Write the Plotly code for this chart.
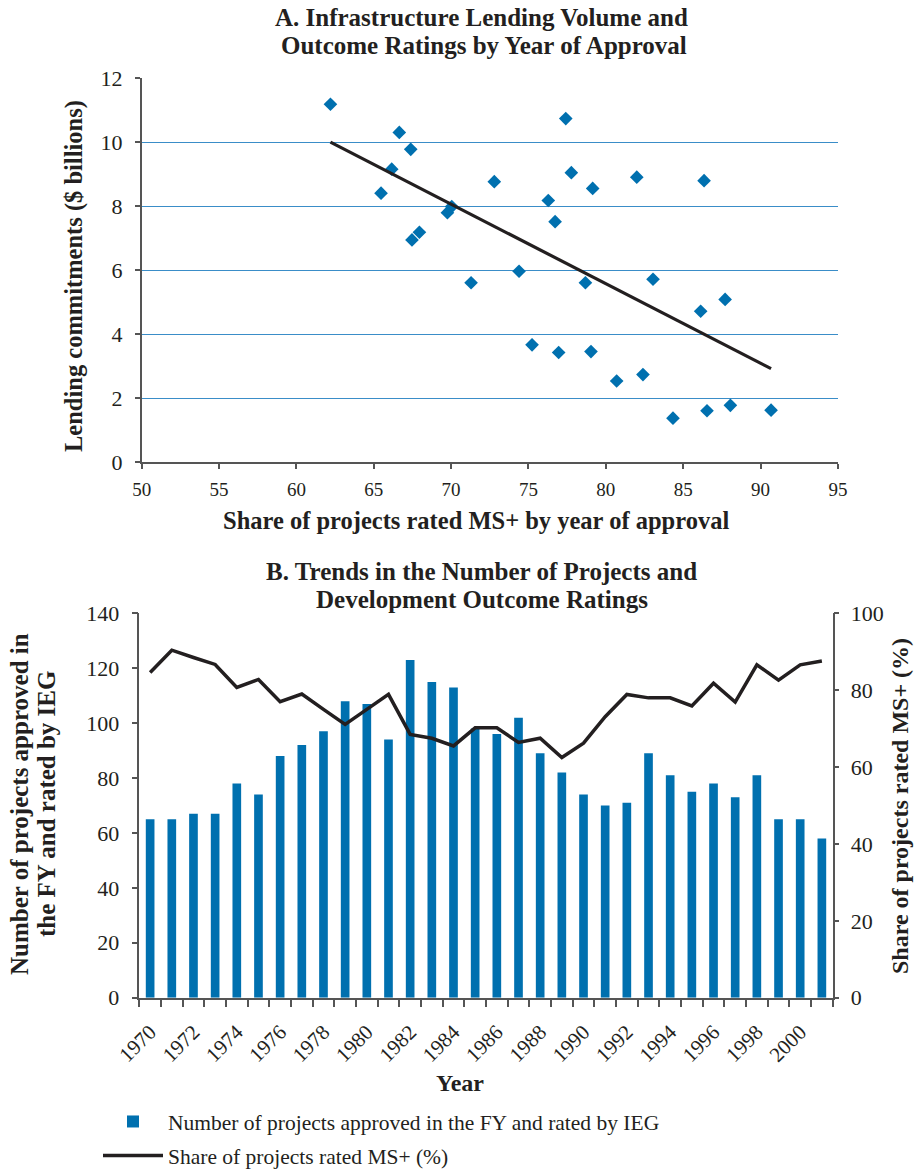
import numpy as np
import plotly.graph_objects as go

# ---------------- Data: Panel A ----------------
share_ms = [62.2, 66.65, 67.39, 66.16, 65.47, 70.04, 69.76, 67.95, 67.47, 71.29, 72.79,
            77.41, 77.77, 79.15, 82.0, 86.35, 76.28, 76.72, 74.39, 78.68, 83.05, 87.71,
            86.13, 75.23, 76.95, 79.04, 80.70, 82.40, 84.34, 86.54, 88.05, 90.68]
lending = [11.19, 10.31, 9.78, 9.16, 8.41, 7.99, 7.80, 7.19, 6.95, 5.61, 8.77,
           10.74, 9.05, 8.56, 8.91, 8.80, 8.18, 7.52, 5.97, 5.61, 5.72, 5.09,
           4.72, 3.67, 3.43, 3.46, 2.54, 2.74, 1.38, 1.61, 1.78, 1.63]

# ---------------- Data: Panel B ----------------
years = list(range(1970, 2002))
n_projects = [65, 65, 67, 67, 78, 74, 88, 92, 97, 108, 107, 94, 123, 115, 113, 98,
              96, 102, 89, 82, 74, 70, 71, 89, 81, 75, 78, 73, 81, 65, 65, 58]
share_rated = [84.6, 90.4, 88.5, 86.7, 80.7, 82.8, 77.0, 79.0, 75.0, 71.1, 75.0, 78.9,
               68.5, 67.5, 65.5, 70.2, 70.2, 66.4, 67.5, 62.5, 66.2, 73.1, 78.9, 78.0,
               78.0, 75.9, 81.8, 76.9, 86.6, 82.6, 86.6, 87.6]
year_labels = [str(y) if y % 2 == 0 else "" for y in years]

W, H = 916, 1169
BLUE = "#0070AF"
DARK = "#231F20"
FONT = "Liberation Serif"

def px_x(p):
    return p / W

def px_y(p):
    return 1 - p / H

# trend line (least squares fit through panel A points)
slope, intercept = np.polyfit(share_ms, lending, 1)
tx = np.array([min(share_ms), max(share_ms)])
ty = slope * tx + intercept

fig = go.Figure()

fig.add_trace(go.Scatter(
    x=share_ms, y=lending, mode="markers",
    marker=dict(symbol="diamond", size=10.5, color=BLUE),
    xaxis="x", yaxis="y", showlegend=False))
fig.add_trace(go.Scatter(
    x=tx, y=ty, mode="lines", line=dict(color=DARK, width=3.2),
    xaxis="x", yaxis="y", showlegend=False))

fig.add_trace(go.Bar(
    x=[str(y) for y in years], y=n_projects, marker=dict(color=BLUE, line=dict(width=0)),
    name="Number of projects approved in the FY and rated by IEG", legendgroup="a",
    xaxis="x2", yaxis="y2"))
fig.add_trace(go.Scatter(
    x=[str(y) for y in years], y=share_rated, mode="lines",
    line=dict(color=DARK, width=3.5),
    name="Share of projects rated MS+ (%)", legendgroup="b",
    xaxis="x2", yaxis="y3"))

def tf(size):
    return dict(family=FONT, size=size, color=DARK)

axis_line = dict(showline=True, linecolor="#555555", linewidth=1.5,
                 ticks="outside", tickcolor="#555555", tickwidth=1.5,
                 zeroline=False, automargin=False)

fig.update_layout(
    width=W, height=H,
    margin=dict(l=0, r=0, t=0, b=0, autoexpand=False),
    paper_bgcolor="white", plot_bgcolor="white",
    font=dict(family=FONT, color=DARK),
    bargap=0.6,
    xaxis=dict(domain=[px_x(141.7), px_x(837.9)], range=[50, 95], dtick=5, tick0=50,
               showgrid=False, anchor="y", ticklen=5, tickfont=tf(19),
               ticklabelstandoff=4, **axis_line),
    yaxis=dict(domain=[px_y(462.3), px_y(78.3)], range=[0, 12], dtick=2,
               showgrid=True, gridcolor="#3A8DC8", gridwidth=1.3,
               anchor="x", ticklen=5, tickfont=tf(22), ticklabelstandoff=8, **axis_line),
    xaxis2=dict(domain=[px_x(139.3), px_x(832.7)], type="category",
                tickmode="array", tickvals=[str(y) for y in years], ticktext=year_labels,
                tickson="boundaries", tickangle=-45, ticklen=8, tickfont=tf(21),
                ticklabelstandoff=12, showgrid=False, anchor="y2", **axis_line),
    yaxis2=dict(domain=[px_y(997.7), px_y(613.3)], range=[0, 140], dtick=20,
                showgrid=False, anchor="x2", ticklen=6, tickfont=tf(22),
                ticklabelstandoff=8, **axis_line),
    yaxis3=dict(range=[0, 100], dtick=20, overlaying="y2", side="right",
                showgrid=False, anchor="x2", ticklen=5, tickfont=tf(22),
                ticklabelstandoff=7, **axis_line),
    legend=dict(x=px_x(98), y=px_y(1101), xanchor="left", yanchor="top",
                font=tf(21.5), bgcolor="rgba(0,0,0,0)", tracegroupgap=3, itemwidth=60),
)

annotations = [
    dict(text="<b>A. Infrastructure Lending Volume and</b>", x=px_x(482), y=px_y(18), font=tf(25)),
    dict(text="<b>Outcome Ratings by Year of Approval</b>", x=px_x(484), y=px_y(46), font=tf(25)),
    dict(text="<b>Share of projects rated MS+ by year of approval</b>",
         x=px_x(476), y=px_y(520), font=tf(24.5)),
    dict(text="<b>Lending commitments ($ billions)</b>", textangle=-90,
         x=px_x(74), y=px_y(276), font=tf(24.5)),
    dict(text="<b>B. Trends in the Number of Projects and</b>", x=px_x(482), y=px_y(571), font=tf(25)),
    dict(text="<b>Development Outcome Ratings</b>", x=px_x(482), y=px_y(599), font=tf(25)),
    dict(text="<b>Number of projects approved in</b>", textangle=-90,
         x=px_x(19), y=px_y(804), font=tf(25)),
    dict(text="<b>the FY and rated by IEG</b>", textangle=-90,
         x=px_x(46), y=px_y(804), font=tf(25)),
    dict(text="<b>Share of projects rated MS+ (%)</b>", textangle=-90,
         x=px_x(900), y=px_y(806), font=tf(24)),
    dict(text="<b>Year</b>", x=px_x(460), y=px_y(1083), font=tf(24)),
]
for a in annotations:
    a.update(xref="paper", yref="paper", showarrow=False, xanchor="center", yanchor="middle")
fig.update_layout(annotations=annotations)

# remove the default page margin so the figure fills the 916x1169 window exactly
fig.write_html("out.html", config={"displayModeBar": False},
               post_script="document.body.style.margin='0';")
